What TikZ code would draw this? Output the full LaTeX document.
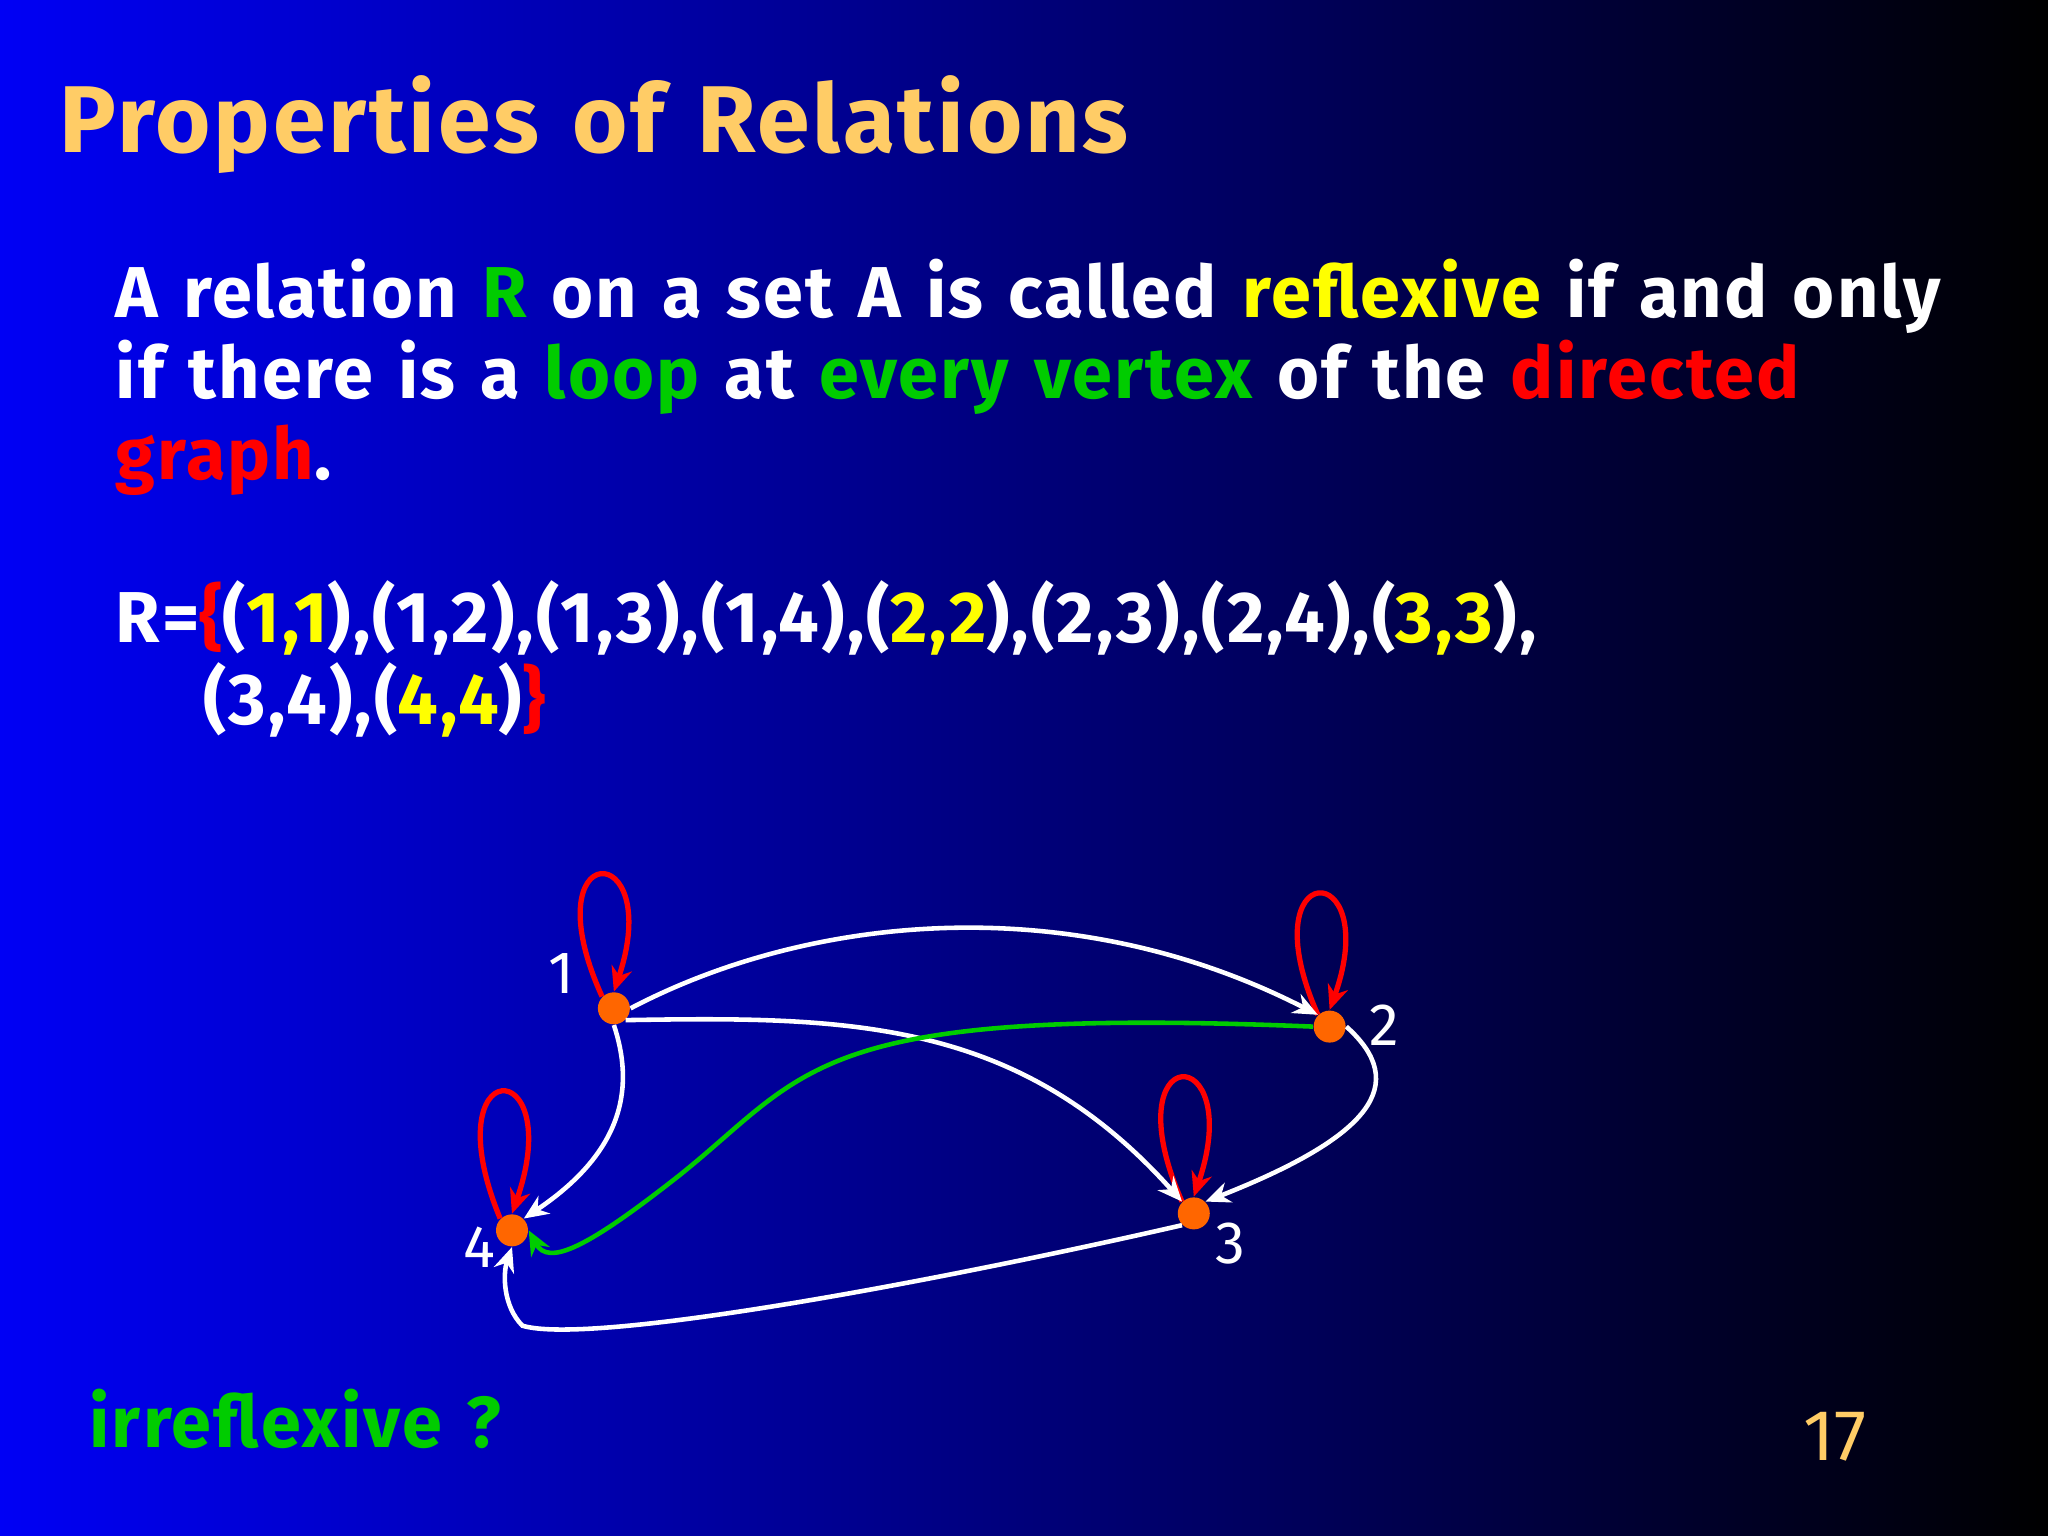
\documentclass[tikz,border=0pt]{standalone}
\usepackage{fontspec}
\setmainfont{Fira Sans}
\newfontfamily\wideff[LetterSpace=3,WordSpace=1.3]{Fira Sans}
\usetikzlibrary{arrows.meta}
\definecolor{ttl}{RGB}{255,204,102}
\definecolor{yel}{RGB}{255,255,0}
\definecolor{grn}{RGB}{0,204,0}
\definecolor{rd}{RGB}{255,0,0}
\definecolor{vtx}{RGB}{255,102,0}
\begin{document}
\begin{tikzpicture}[x=0.01306cm,y=-0.01306cm,
  vx/.style={circle,fill=vtx,inner sep=0pt,minimum size=0.32cm},
  lab/.style={text=white,font=\fontsize{17}{20}\selectfont},
  body/.style={anchor=base west,text=white,font=\wideff\bfseries\fontsize{20.5}{24}\selectfont,inner sep=0pt},
  edge/.style={white,line width=1.3pt,-{Stealth[length=7pt,width=6pt]}},
  loopst/.style={rd,line width=1.5pt,-{Stealth[length=7pt,width=6pt]}},
  gedge/.style={grn,line width=1.3pt,-{Stealth[length=7pt,width=6pt]}}]
\useasboundingbox (0,0) rectangle (1568,1176);
\shade[left color={rgb,255:red,0;green,0;blue,245},middle color={rgb,255:red,0;green,0;blue,150},right color=black] (0,0) rectangle (1568,1176);
\node[anchor=base west,text=ttl,font=\wideff\bfseries\fontsize{27}{30}\selectfont,inner sep=0pt] (title) at (45,117) {Properties of Relations};
\node[body] (l1) at (88,243) {A relation \textcolor{grn}{R} on a set A is called \textcolor{yel}{reflexive} if and only};
\node[body] (l2) at (88,305) {if there is a \textcolor{grn}{loop} at \textcolor{grn}{every vertex} of the \textcolor{rd}{directed}};
\node[body] (l3) at (88,367) {\textcolor{rd}{graph}.};
\node[body] (l4) at (88,492) {R=\textcolor{rd}{\{}(\textcolor{yel}{1,1}),(1,2),(1,3),(1,4),(\textcolor{yel}{2,2}),(2,3),(2,4),(\textcolor{yel}{3,3}),};
\node[body] (l5) at (155,555) {(3,4),(\textcolor{yel}{4,4})\textcolor{rd}{\}}};
\node[anchor=base west,text=grn,font=\wideff\bfseries\fontsize{20.5}{24}\selectfont,inner sep=0pt] (irr) at (68,1108) {irreflexive ?};
\node[anchor=base west,text=ttl,font=\fontsize{20.5}{24}\selectfont,inner sep=0pt] (pg) at (1380,1118) {17};
\node[vx] (n1) at (470,772) {};
\node[vx] (n2) at (1018,786) {};
\node[vx] (n3) at (914,929) {};
\node[vx] (n4) at (392,942) {};
\node[lab] (t1) at (430,745) {1};
\node[lab] (t2) at (1060,785) {2};
\node[lab] (t3) at (942,952) {3};
\node[lab] (t4) at (367,955) {4};
\draw[loopst] (n1.north west) .. controls (405,640) and (510,640) .. (n1.north);
\draw[loopst] (n2.north west) .. controls (955,655) and (1060,655) .. (n2.north);
\draw[loopst] (n3.north west) .. controls (850,795) and (955,795) .. (n3.north);
\draw[loopst] (n4.north west) .. controls (330,805) and (435,805) .. (n4.north);
\draw[edge] (n1.east) .. controls (620,700) and (820,680) .. (n2.north west);
\draw[edge] (n1.south east) .. controls (650,778) and (780,780) .. (n3.north west);
\draw[edge] (n1.south) .. controls (485,830) and (480,880) .. (n4.north east);
\draw[edge] (n2.east) .. controls (1080,830) and (1050,870) .. (n3.north east);
\draw[gedge] (n2.west) .. controls (620,770) and (620,820) .. (520,900) .. controls (450,955) and (420,970) .. (n4.east);
\draw[edge] (n3.south west) .. controls (700,985) and (450,1030) .. (400,1015) .. controls (385,1000) and (385,975) .. (n4.south);
\end{tikzpicture}
\end{document}
